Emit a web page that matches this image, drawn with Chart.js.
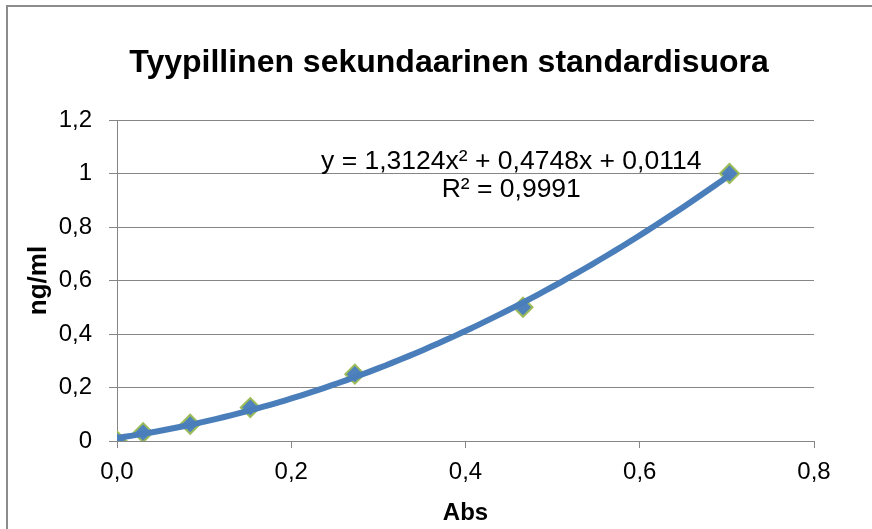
<!DOCTYPE html>
<html>
<head>
<meta charset="utf-8">
<script src="https://cdn.jsdelivr.net/npm/chart.js@4.4.0/dist/chart.umd.min.js"></script>
<style>
  html, body { margin: 0; padding: 0; background: #fff; }
  canvas { display: block; }
</style>
</head>
<body>
<canvas id="chart" width="872" height="529"></canvas>
<script>
// standard curve: absorbance vs concentration
const absValues = [0, 0.030, 0.084, 0.153, 0.273, 0.466, 0.703];
const concValues = [0, 0.03125, 0.0625, 0.125, 0.25, 0.5, 1];
const xTickLabels = ['0,0', '0,2', '0,4', '0,6', '0,8'];
const yTickLabels = ['0', '0,2', '0,4', '0,6', '0,8', '1', '1,2'];
// polynomial trendline coefficients as printed on the chart: c, b, a
const trendCoef = [0.0114, 0.4748, 1.3124];
const equationLines = ['y = 1,3124x² + 0,4748x + 0,0114', 'R² = 0,9991'];
const chartTitle = 'Tyypillinen sekundaarinen standardisuora';

const FONT = "'Liberation Sans', Arial, sans-serif";
const GRID = '#868686';

// curve of the printed equation over the measured range
const trendPoints = [];
const xMax = Math.max(...absValues);
for (let i = 0; i <= 80; i++) {
  const x = xMax * i / 80;
  trendPoints.push({ x: x, y: trendCoef[0] + trendCoef[1] * x + trendCoef[2] * x * x });
}

const points = absValues.map((x, i) => ({ x: x, y: concValues[i] }));

const framePlugin = {
  id: 'frame',
  beforeDraw(chart) {
    const ctx = chart.ctx;
    ctx.save();
    ctx.strokeStyle = '#8c8c8c';
    ctx.lineWidth = 2;
    ctx.strokeRect(7, 6, 900, 560);
    ctx.restore();
  }
};

// title is centred on the whole frame, not on the plot, so draw it by hand
const textPlugin = {
  id: 'texts',
  afterDraw(chart) {
    const ctx = chart.ctx;
    const xs = chart.scales.x;
    const ys = chart.scales.y;
    ctx.save();
    ctx.fillStyle = '#000';
    ctx.textAlign = 'center';
    ctx.textBaseline = 'middle';

    ctx.font = 'bold 32px ' + FONT;
    ctx.fillText(chartTitle, 449, 63);

    ctx.font = '26.5px ' + FONT;
    const cx = xs.getPixelForValue(0.4525);
    ctx.fillText(equationLines[0], cx, ys.getPixelForValue(1.043));
    ctx.fillText(equationLines[1], cx, ys.getPixelForValue(0.938));
    ctx.restore();
  }
};

new Chart(document.getElementById('chart'), {
  type: 'scatter',
  data: {
    datasets: [
      {
        label: 'Trendline',
        data: trendPoints,
        showLine: true,
        borderColor: '#4a7ebb',
        borderWidth: 6,
        pointRadius: 0,
        tension: 0,
        order: 0
      },
      {
        label: 'ng/ml',
        data: points,
        pointStyle: 'rectRot',
        pointRadius: 9.5,
        backgroundColor: '#4f81bd',
        borderColor: '#9bbb59',
        borderWidth: 2,
        order: 1
      }
    ]
  },
  options: {
    responsive: false,
    animation: false,
    layout: { padding: { left: 0, right: 58, top: 120, bottom: 0 } },
    plugins: {
      legend: { display: false },
      tooltip: { enabled: false },
      title: { display: false }
    },
    scales: {
      x: {
        type: 'linear',
        min: 0,
        max: 0.8,
        afterFit(scale) { scale.height = 88; },
        ticks: {
          stepSize: 0.2,
          color: '#000',
          padding: 10,
          font: { family: FONT, size: 24 },
          callback: (v) => xTickLabels[Math.round(v / 0.2)]
        },
        grid: { drawOnChartArea: false, drawTicks: true, tickLength: 7, color: GRID },
        border: { color: GRID, width: 1 },
        title: {
          display: true,
          text: 'Abs',
          color: '#000',
          font: { family: FONT, size: 24, weight: 'bold', lineHeight: 1.2 },
          padding: { top: 0, bottom: 1 }
        }
      },
      y: {
        min: 0,
        max: 1.2,
        afterFit(scale) { scale.width = 117; },
        ticks: {
          stepSize: 0.2,
          color: '#000',
          padding: 17,
          font: { family: FONT, size: 24 },
          callback: (v) => yTickLabels[Math.round(v / 0.2)]
        },
        grid: { color: GRID, tickLength: 8 },
        border: { color: GRID, width: 1 },
        title: {
          display: true,
          text: 'ng/ml',
          color: '#000',
          font: { family: FONT, size: 26, weight: 'bold', lineHeight: 1.2 },
          padding: { top: 23, bottom: 0 }
        }
      }
    }
  },
  plugins: [framePlugin, textPlugin]
});
</script>
</body>
</html>
